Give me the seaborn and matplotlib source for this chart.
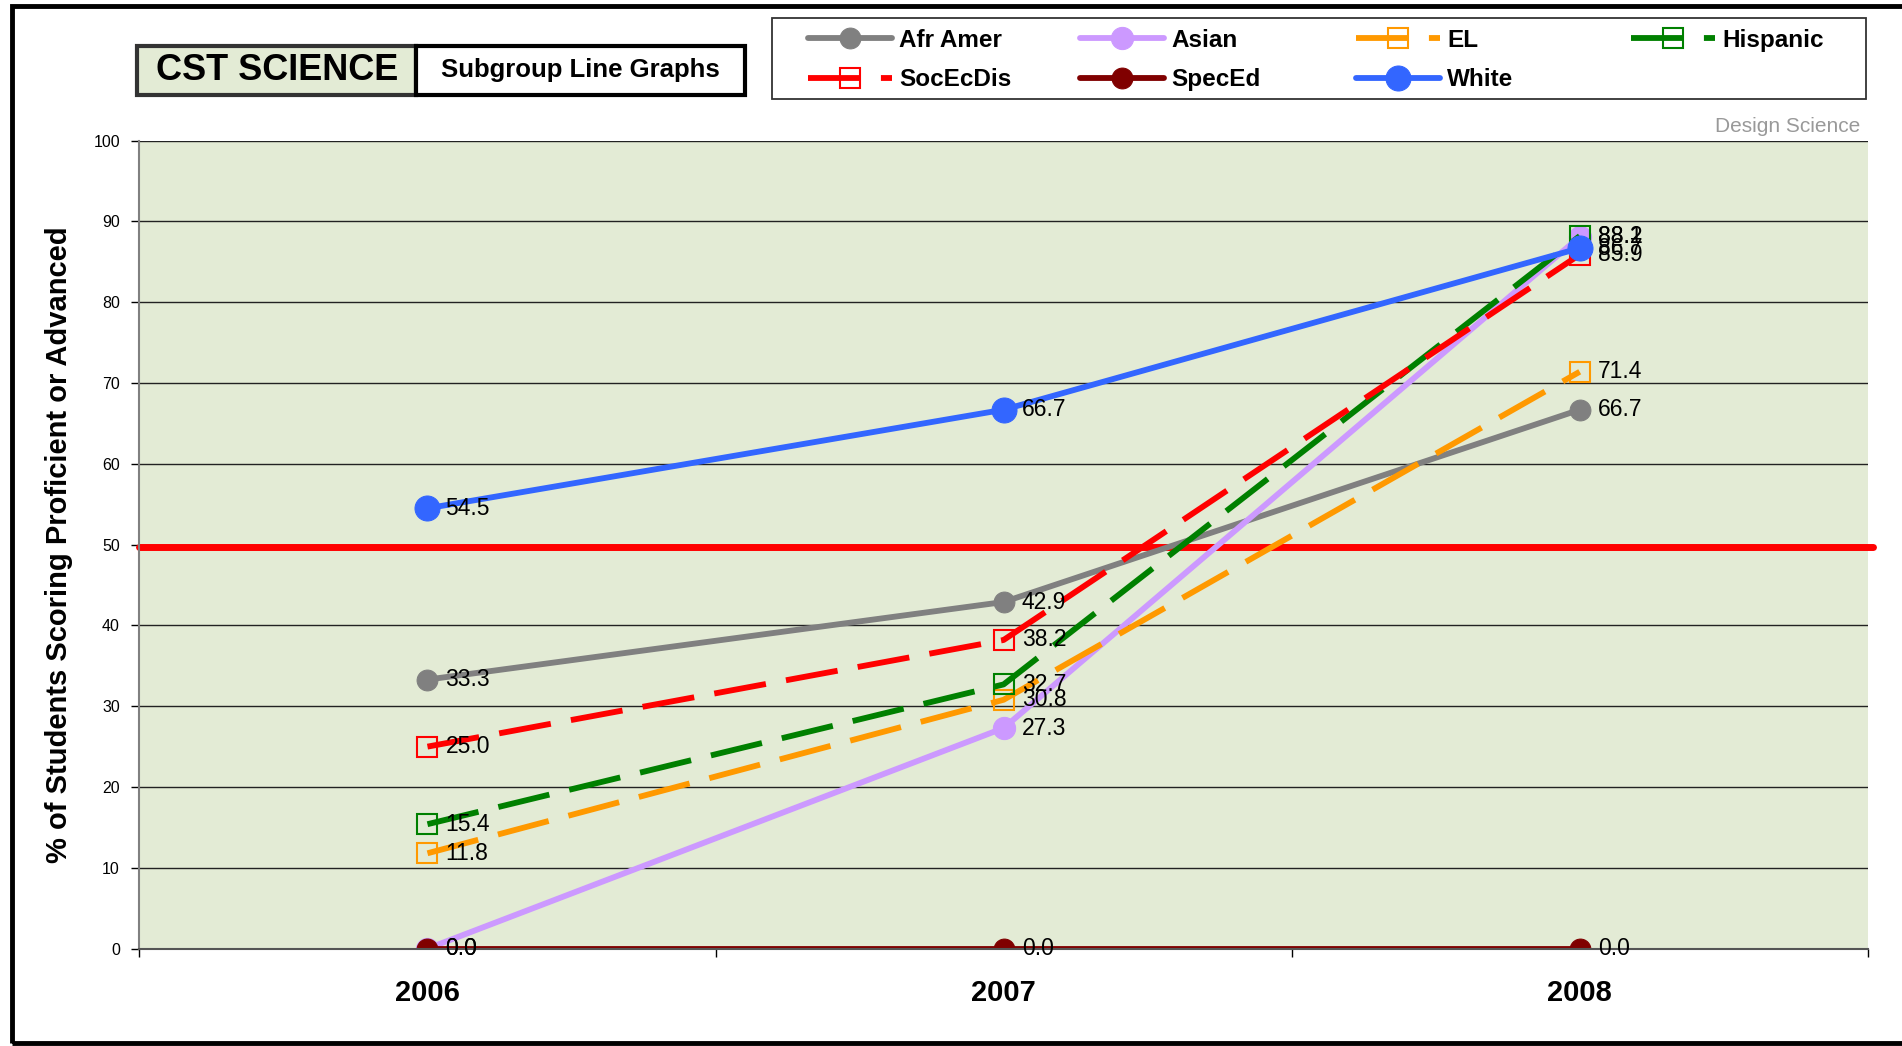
import pandas as pd
import matplotlib
matplotlib.use("Agg")
import matplotlib.pyplot as plt
import seaborn as sns
from matplotlib.patches import Rectangle

sns.set_theme(style="white")
plt.rcParams['font.family'] = ['Liberation Sans', 'DejaVu Sans']
plt.rcParams['text.color'] = 'black'
plt.rcParams['axes.labelcolor'] = 'black'
plt.rcParams['xtick.color'] = 'black'
plt.rcParams['ytick.color'] = 'black'

# data
years = ['2006', '2007', '2008']
groups = ['Afr Amer', 'Asian', 'EL', 'Hispanic', 'SocEcDis', 'SpecEd', 'White']
afr_amer = [33.3, 42.9, 66.7]
asian = [0.0, 27.3, 88.1]
el = [11.8, 30.8, 71.4]
hispanic = [15.4, 32.7, 88.2]
socecdis = [25.0, 38.2, 85.9]
speced = [0.0, 0.0, 0.0]
white = [54.5, 66.7, 86.7]
target = 49.7

series = [afr_amer, asian, el, hispanic, socecdis, speced, white]
colors = ['#808080', '#CC99FF', '#FF9900', '#008000', '#FF0000', '#800000', '#3366FF']
dashed = [False, False, True, True, True, False, False]
msizes = [15, 16, 14, 14, 14, 15, 18]

df = pd.DataFrame({
    'year': years * len(groups),
    'group': [g for g in groups for _ in years],
    'value': [v for s in series for v in s],
})

fig = plt.figure(figsize=(19.02, 10.46), dpi=100)
ax = fig.add_axes([0.0733, 0.0931, 0.9087, 0.7724])
ax.set_facecolor('#E3EBD5')

for g, c, d, ms in zip(groups, colors, dashed, msizes):
    sub = df[df['group'] == g]
    if d:
        kw = dict(linestyle=(0, (9, 3.5)), marker='s', markersize=ms,
                  markerfacecolor='none', markeredgecolor=c, markeredgewidth=1.5)
    else:
        kw = dict(linestyle='-', marker='o', markersize=ms,
                  markerfacecolor=c, markeredgecolor=c)
    sns.lineplot(data=sub, x='year', y='value', color=c, linewidth=4.2,
                 ax=ax, label=g, sort=False, **kw)
    for i, v in enumerate(sub['value']):
        ax.annotate(f'{v:.1f}', (i, v), xytext=(13, 0), textcoords='offset points',
                    va='center', ha='left', fontsize=16.5, color='black')

ax.axhline(target, color='#FF0000', linewidth=5, xmin=0, xmax=1.003, clip_on=False, zorder=1.5)

ax.set_xlim(-0.5, 2.5)
ax.set_ylim(0, 100)
ax.set_yticks(range(0, 101, 10))
ax.grid(axis='y', color='#222222', linewidth=1)
ax.set_axisbelow(True)
ax.set_xticks([0, 1, 2])
ax.set_xticklabels(years, fontsize=21, fontweight='bold')
ax.set_xticks([-0.5, 0.5, 1.5, 2.5], minor=True)
ax.tick_params(axis='x', which='major', length=0, pad=22)
ax.tick_params(axis='x', which='minor', length=6, width=1, color='black', direction='out', bottom=True)
ax.tick_params(axis='y', length=6, width=1, color='black', direction='out', left=True, labelsize=11.5, pad=8)
for s in ['top', 'right']:
    ax.spines[s].set_visible(False)
ax.spines['left'].set_color('#808080')
ax.spines['left'].set_linewidth(1.5)
ax.spines['bottom'].set_color('#555555')
ax.spines['bottom'].set_linewidth(1.5)
ax.set_xlabel('')
ax.set_ylabel('% of Students Scoring Proficient or Advanced', fontsize=21, fontweight='bold', labelpad=15)

# legend: one small legend per column so the columns sit at even steps
h, l = ax.get_legend_handles_labels()
ax.get_legend().remove()
col_x = [0.4248, 0.5678, 0.7129, 0.8576]
for j, x0 in enumerate(col_x):
    idx = [k for k in (j, j + 4) if k < len(h)]
    fig.legend([h[k] for k in idx], [l[k] for k in idx], loc='upper left',
               bbox_to_anchor=(x0, 0.9725), borderaxespad=0, borderpad=0, frameon=False,
               handlelength=3.45, handletextpad=0.3, labelspacing=0.68,
               prop={'weight': 'bold', 'size': 17.5})
fig.patches.append(Rectangle((0.406, 0.905), 0.575, 0.078, transform=fig.transFigure,
                             facecolor='none', edgecolor='#333333', linewidth=1.3))

# title boxes
fig.patches.append(Rectangle((0.0721, 0.9092), 0.1467, 0.047, transform=fig.transFigure,
                             facecolor='#E3EBD5', edgecolor='#333333', linewidth=3))
fig.patches.append(Rectangle((0.2188, 0.9092), 0.1729, 0.047, transform=fig.transFigure,
                             facecolor='white', edgecolor='black', linewidth=3))
fig.text(0.1455, 0.9327, 'CST SCIENCE', ha='center', va='center', fontsize=26, fontweight='bold')
fig.text(0.3053, 0.9327, 'Subgroup Line Graphs', ha='center', va='center', fontsize=18.5, fontweight='bold')
fig.text(0.978, 0.8795, 'Design Science', ha='right', va='center', fontsize=15, color='#999999')

# outer border
fig.patches.append(Rectangle((0.0063, 0.0025), 1.1, 0.9915, transform=fig.transFigure,
                             facecolor='none', edgecolor='black', linewidth=3.5))

fig.savefig('out.png', dpi=100)
